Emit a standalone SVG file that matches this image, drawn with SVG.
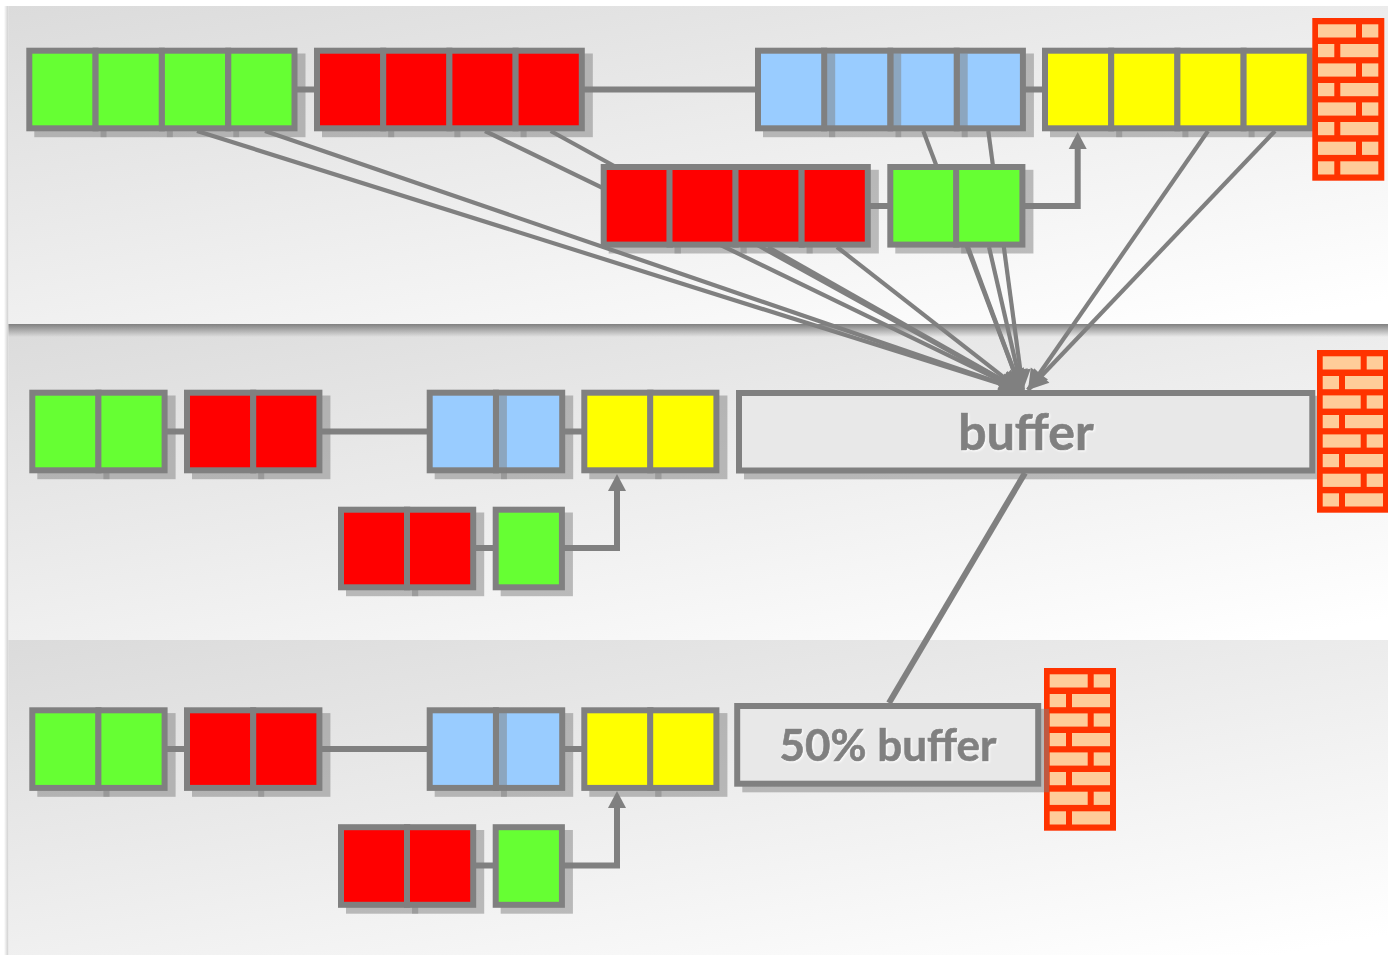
<svg xmlns="http://www.w3.org/2000/svg" xmlns:xlink="http://www.w3.org/1999/xlink" width="1388" height="955" viewBox="0 0 1388 955">
<style>
.s{fill:#808080;fill-opacity:.5}
.b{stroke:#808080;stroke-width:6}
.green{fill:#66ff33}.red{fill:#ff0000}.blue{fill:#99ccff}.yellow{fill:#ffff00}
.k{fill:none;stroke:#808080;stroke-width:6}
.d{fill:none;stroke:#808080;stroke-width:4.2;marker-end:url(#tipEnd)}
.a{fill:none;stroke:#808080;stroke-width:6;marker-end:url(#tipBase)}
.bf{fill:#e8e8e8;stroke:#808080;stroke-width:6}
.t{font-family:"Lato","Liberation Sans",sans-serif;font-weight:700;fill:#808080;stroke:#808080;stroke-width:.7;text-anchor:middle;filter:url(#halo)}
.w{fill:#ff3300}.h{fill:#ffcc99}
</style>
<defs>
<linearGradient id="g1" gradientUnits="userSpaceOnUse" x1="8" y1="6" x2="105" y2="536"><stop offset="0" stop-color="#dbdbdb"/><stop offset="1" stop-color="#ffffff"/></linearGradient>
<linearGradient id="g2" xlink:href="#g1" gradientTransform="translate(0,318)"/>
<linearGradient id="g3" xlink:href="#g1" gradientTransform="translate(0,634)"/>
<linearGradient id="bs" x1="0" y1="0" x2="0" y2="1"><stop offset="0" stop-color="#808080"/><stop offset=".4" stop-color="#808080" stop-opacity=".6"/><stop offset="1" stop-color="#808080" stop-opacity="0"/></linearGradient>
<linearGradient id="ls" x1="0" y1="0" x2="1" y2="0"><stop offset="0" stop-color="#cccccc" stop-opacity="0"/><stop offset="1" stop-color="#cccccc"/></linearGradient>
<marker id="tipEnd" markerUnits="userSpaceOnUse" markerWidth="24" markerHeight="22" refX="20" refY="10.5" orient="auto" overflow="visible"><path d="M0 0L20 10.5L0 21Z" fill="#808080"/></marker>
<marker id="tipBase" markerUnits="userSpaceOnUse" markerWidth="20" markerHeight="20" refX="0" refY="9" orient="auto" overflow="visible"><path d="M0 0L17 9L0 18Z" fill="#808080"/></marker>
<filter id="halo" x="-10%" y="-20%" width="120%" height="140%"><feGaussianBlur in="SourceAlpha" stdDeviation="1.2" result="b"/><feOffset in="b" dx="1" dy="1" result="o"/><feFlood flood-color="#ffffff"/><feComposite in2="o" operator="in"/><feMerge><feMergeNode/><feMergeNode in="SourceGraphic"/></feMerge></filter>
<g id="cell"><rect class="s" x="5" y="2.8" width="72.2" height="83.7"/><rect class="b" width="66.2" height="77.6"/></g>
<g id="brick">
<rect class="w" width="72" height="162.7"/>
<g class="h">
<rect x="5.7" y="6.3" width="38" height="13.2"/><rect x="49.7" y="6.3" width="16.3" height="13.2"/>
<rect x="5.7" y="26" width="16.3" height="13.2"/><rect x="28" y="26" width="38" height="13.2"/>
<rect x="5.7" y="45.4" width="38" height="13.2"/><rect x="49.7" y="45.4" width="16.3" height="13.2"/>
<rect x="5.7" y="65" width="16.3" height="13.2"/><rect x="28" y="65" width="38" height="13.2"/>
<rect x="5.7" y="84.4" width="38" height="13.2"/><rect x="49.7" y="84.4" width="16.3" height="13.2"/>
<rect x="5.7" y="104" width="16.3" height="13.2"/><rect x="28" y="104" width="38" height="13.2"/>
<rect x="5.7" y="123.7" width="38" height="13.2"/><rect x="49.7" y="123.7" width="16.3" height="13.2"/>
<rect x="5.7" y="143.3" width="16.3" height="13.2"/><rect x="28" y="143.3" width="38" height="13.2"/>
</g>
</g>
</defs>
<rect width="1388" height="955" fill="#ffffff"/>
<g id="bands">
<rect x="4" y="6" width="4.5" height="949" fill="url(#ls)"/>
<rect x="8.5" y="6" width="1379.5" height="318" fill="url(#g1)"/>
<rect x="8.5" y="324" width="1379.5" height="316" fill="url(#g2)"/>
<rect x="8.5" y="324" width="1379.5" height="13" fill="url(#bs)"/>
<rect x="8.5" y="640" width="1379.5" height="315" fill="url(#g3)"/>
</g>
<g id="connectors">
<path class="k" d="M295 89.5H317M582 89.5H758M1024 89.5H1045"/>
<path class="k" d="M868 206H890"/>
<path class="a" d="M1024 206H1077.7V149"/>
<path class="d" d="M197 131L1020 390"/>
<path class="d" d="M265 131L1020 390"/>
<path class="d" d="M485 131L1020 390"/>
<path class="d" d="M550.7 131L1020 390"/>
<path class="d" d="M768 247L1020 390"/>
<path class="d" d="M837 247L1020 390"/>
<path class="d" d="M923.3 131L1021 390"/>
<path class="d" d="M988.3 131L1023 390"/>
<path class="d" d="M968 247L1021 390"/>
<path class="d" d="M989 247L1022 390"/>
<path class="d" d="M1208 131L1028 390"/>
<path class="d" d="M1275 131L1028 390"/>
<path class="k" d="M165 431.5H187M320 431.5H430M562 431.5H584"/>
<path class="k" d="M473 548H496"/>
<path class="a" d="M562 548H617V491"/>
<path class="k" d="M165 749H187M320 749H430M562 749H584"/>
<path class="k" d="M473 865.5H496"/>
<path class="a" d="M562 865.5H617V808"/>
<path class="k" d="M1025 473L889 703"/>
</g>
<g id="a-green" class="green"><use xlink:href="#cell" x="29.3" y="50.7"/><use xlink:href="#cell" x="95.6" y="50.7"/><use xlink:href="#cell" x="161.9" y="50.7"/><use xlink:href="#cell" x="228.3" y="50.7"/></g>
<g id="a-red" class="red"><use xlink:href="#cell" x="317" y="50.7"/><use xlink:href="#cell" x="383.2" y="50.7"/><use xlink:href="#cell" x="449.4" y="50.7"/><use xlink:href="#cell" x="515.6" y="50.7"/></g>
<g id="a-blue" class="blue"><use xlink:href="#cell" x="956.7" y="50.7"/><use xlink:href="#cell" x="890.5" y="50.7"/><use xlink:href="#cell" x="824" y="50.7"/><use xlink:href="#cell" x="758" y="50.7"/></g>
<g id="a-yellow" class="yellow"><use xlink:href="#cell" x="1045" y="50.7"/><use xlink:href="#cell" x="1111.2" y="50.7"/><use xlink:href="#cell" x="1177.4" y="50.7"/><use xlink:href="#cell" x="1243.6" y="50.7"/></g>
<g id="a-red2" class="red"><use xlink:href="#cell" x="603.7" y="167"/><use xlink:href="#cell" x="669.5" y="167"/><use xlink:href="#cell" x="735.5" y="167"/><use xlink:href="#cell" x="801.6" y="167"/></g>
<g id="a-green2" class="green"><use xlink:href="#cell" x="890.3" y="167"/><use xlink:href="#cell" x="956.2" y="167"/></g>
<g id="wall-a"><use xlink:href="#brick" x="1312.3" y="18"/></g>
<g id="b-green" class="green"><use xlink:href="#cell" x="32.3" y="392.7"/><use xlink:href="#cell" x="98.4" y="392.7"/></g>
<g id="b-red" class="red"><use xlink:href="#cell" x="187" y="392.7"/><use xlink:href="#cell" x="253.2" y="392.7"/></g>
<g id="b-blue" class="blue"><use xlink:href="#cell" x="496" y="392.7"/><use xlink:href="#cell" x="429.7" y="392.7"/></g>
<g id="b-yellow" class="yellow"><use xlink:href="#cell" x="584.3" y="392.7"/><use xlink:href="#cell" x="650.2" y="392.7"/></g>
<g id="b-red2" class="red"><use xlink:href="#cell" x="341" y="509.7"/><use xlink:href="#cell" x="407" y="509.7"/></g>
<g id="b-green2" class="green"><use xlink:href="#cell" x="495.7" y="509.7"/></g>
<g id="b-buffer"><rect class="s" x="744" y="395.8" width="579" height="83.5"/><rect class="bf" x="739" y="393" width="573.3" height="77.5"/><text class="t" x="1026" y="450" font-size="50">buffer</text></g>
<g id="wall-b"><use xlink:href="#brick" x="1317" y="350"/></g>
<g id="c-green" class="green"><use xlink:href="#cell" x="32.3" y="710.3"/><use xlink:href="#cell" x="98.4" y="710.3"/></g>
<g id="c-red" class="red"><use xlink:href="#cell" x="187" y="710.3"/><use xlink:href="#cell" x="253.2" y="710.3"/></g>
<g id="c-blue" class="blue"><use xlink:href="#cell" x="496" y="710.3"/><use xlink:href="#cell" x="429.7" y="710.3"/></g>
<g id="c-yellow" class="yellow"><use xlink:href="#cell" x="584.3" y="710.3"/><use xlink:href="#cell" x="650.2" y="710.3"/></g>
<g id="c-red2" class="red"><use xlink:href="#cell" x="341" y="827.2"/><use xlink:href="#cell" x="407" y="827.2"/></g>
<g id="c-green2" class="green"><use xlink:href="#cell" x="495.7" y="827.2"/></g>
<g id="wall-c"><use xlink:href="#brick" x="1044" y="668"/></g>
<g id="c-buffer"><rect class="s" x="742.3" y="708.8" width="306.8" height="83.5"/><rect class="bf" x="737.2" y="706" width="301" height="77.7"/><text class="t" x="888" y="761" font-size="44">50% buffer</text></g>
</svg>
